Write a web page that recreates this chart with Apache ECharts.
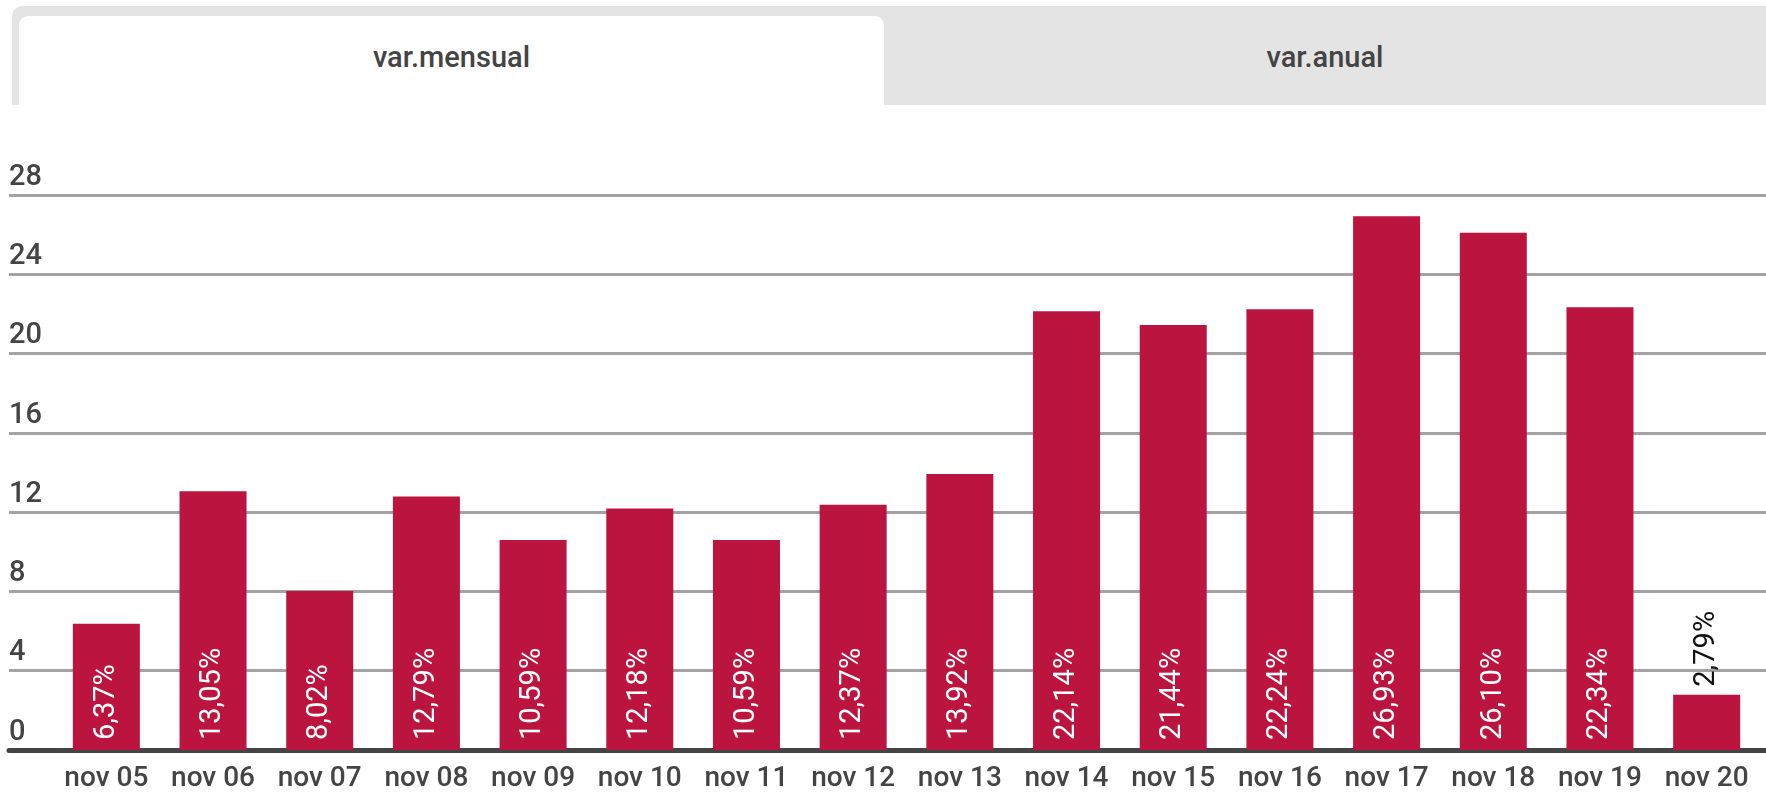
<!DOCTYPE html>
<html>
<head>
<meta charset="utf-8">
<script src="https://cdn.jsdelivr.net/npm/echarts@6/dist/echarts.min.js"></script>
<style>
  html, body { margin: 0; padding: 0; background: #fff; }
  body { width: 1766px; height: 793px; position: relative; overflow: hidden; font-family: Roboto, sans-serif; }
  .tabs {
    position: absolute; left: 12px; top: 6px; right: 0; height: 99px;
    background: #e4e4e4; border-top-left-radius: 10px;
  }
  .tab {
    position: absolute; top: 10px; bottom: 0;
    display: flex; align-items: center; justify-content: center;
    padding-bottom: 7px; box-sizing: border-box;
    font-size: 29px; font-weight: 500; color: #444;
  }
  .tab.active { left: 7px; width: 865px; background: #fff; border-radius: 9px 9px 0 0; }
  .tab.other { left: 872px; right: 0; }
  #chart { position: absolute; left: 0; top: 0; width: 1766px; height: 793px; }
</style>
</head>
<body>
<div id="chart"></div>
<div class="tabs">
  <div class="tab active">var.mensual</div>
  <div class="tab other">var.anual</div>
</div>
<script>
const categories = ["nov 05", "nov 06", "nov 07", "nov 08", "nov 09", "nov 10", "nov 11", "nov 12",
  "nov 13", "nov 14", "nov 15", "nov 16", "nov 17", "nov 18", "nov 19", "nov 20"];
const values = [6.37, 13.05, 8.02, 12.79, 10.59, 12.18, 10.59, 12.37,
  13.92, 22.14, 21.44, 22.24, 26.93, 26.10, 22.34, 2.79];
const yMin = 0, yMax = 28, yStep = 4;

const fmt = v => v.toFixed(2).replace(".", ",") + "%";

const chart = echarts.init(document.getElementById("chart"));

// small bars get their label outside, in black
const barData = values.map(v => v < 5
  ? { value: v, label: { position: "top", color: "#111", distance: 8 } }
  : v);

chart.setOption({
  animation: false,
  grid: [
    { left: 9, right: 0, top: 195, bottom: 43 },
    { left: 53, right: 6, top: 195, bottom: 43 }
  ],
  xAxis: [
    {
      gridIndex: 0, type: "value", min: 0, max: 1,
      axisLine: { show: true, lineStyle: { color: "#444", width: 5 } },
      axisTick: { show: false }, axisLabel: { show: false }, splitLine: { show: false }
    },
    {
      gridIndex: 1, type: "category", data: categories,
      axisLine: { show: false }, axisTick: { show: false },
      axisLabel: { interval: 0, color: "#444", fontSize: 28, fontWeight: 500, fontFamily: "Roboto", margin: 15 }
    }
  ],
  yAxis: [
    {
      gridIndex: 0, type: "value", min: yMin, max: yMax, interval: yStep,
      axisLine: { show: false }, axisTick: { show: false },
      axisLabel: {
        inside: true, margin: 0, align: "left", verticalAlign: "bottom",
        padding: [0, 0, 3, 0], color: "#444", fontSize: 29, fontWeight: 500, fontFamily: "Roboto"
      },
      splitLine: { lineStyle: { color: "#a2a2a2", width: 3 } }
    },
    { gridIndex: 1, type: "value", min: yMin, max: yMax, show: false }
  ],
  series: [{
    type: "bar",
    xAxisIndex: 1, yAxisIndex: 1,
    data: barData,
    barWidth: 67,
    itemStyle: { color: "#bb143e" },
    label: {
      show: true, position: "insideBottom", rotate: 90, distance: 10,
      align: "left", verticalAlign: "middle",
      color: "#fff", fontSize: 29, fontFamily: "Roboto",
      formatter: p => fmt(p.value)
    }
  }]
});
</script>
</body>
</html>
